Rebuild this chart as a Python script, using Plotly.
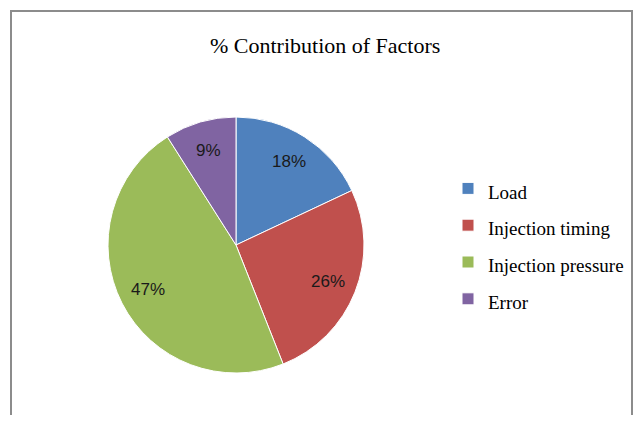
import math
import plotly.graph_objects as go

labels = ["Load", "Injection timing", "Injection pressure", "Error"]
values = [18, 26, 47, 9]
colors = ["#4F81BD", "#C0504D", "#9BBB59", "#8064A2"]
title = "% Contribution of Factors"

# page body has an 8px margin, so the figure is drawn 8px in from the window edge;
# the figure is kept small enough that the page does not overflow
W, H = 625, 407
cx, cy, r = 228, 237, 128

legend_labels = ["<span style='font-size:19px'>%s</span>" % l for l in labels]

fig = go.Figure()
fig.add_trace(go.Pie(
    labels=legend_labels,
    values=values,
    sort=False,
    direction="clockwise",
    rotation=0,
    marker=dict(colors=colors, line=dict(color="white", width=1)),
    textinfo="none",
    hoverinfo="skip",
    domain=dict(x=[(cx - r) / W, (cx + r) / W], y=[1 - (cy + r) / H, 1 - (cy - r) / H]),
))

# percentage labels placed at 0.77 of the radius, at each slice's mid angle
total = sum(values)
cum = 0
for v in values:
    mid = (cum + v / 2) / total * 2 * math.pi
    cum += v
    px = cx + 0.77 * r * math.sin(mid)
    py = cy - 0.77 * r * math.cos(mid)
    fig.add_annotation(text="%d%%" % round(v / total * 100), xref="paper", yref="paper",
                       x=px / W, y=1 - py / H, showarrow=False,
                       xanchor="center", yanchor="middle",
                       font=dict(family="Liberation Sans", size=17, color="#1a1a1a"))

fig.add_shape(type="rect", xref="paper", yref="paper",
              x0=3 / W, x1=624 / W, y0=-0.1, y1=1 - 3 / H,
              line=dict(color="#8c8c8c", width=2), fillcolor="rgba(0,0,0,0)")

fig.add_annotation(text=title, xref="paper", yref="paper", x=317 / W, y=1 - 37.5 / H,
                   showarrow=False, xanchor="center", yanchor="middle",
                   font=dict(family="Liberation Serif, Times New Roman, serif", size=22, color="black"))

fig.update_layout(
    width=W, height=H,
    margin=dict(l=0, r=0, t=0, b=0),
    paper_bgcolor="white",
    plot_bgcolor="white",
    showlegend=True,
    legend=dict(x=440 / W, y=1 - 157 / H, xanchor="left", yanchor="top",
                font=dict(family="Liberation Serif, serif", size=26, color="black"),
                bgcolor="rgba(0,0,0,0)", itemwidth=30),
)

fig.write_html("out.html")
